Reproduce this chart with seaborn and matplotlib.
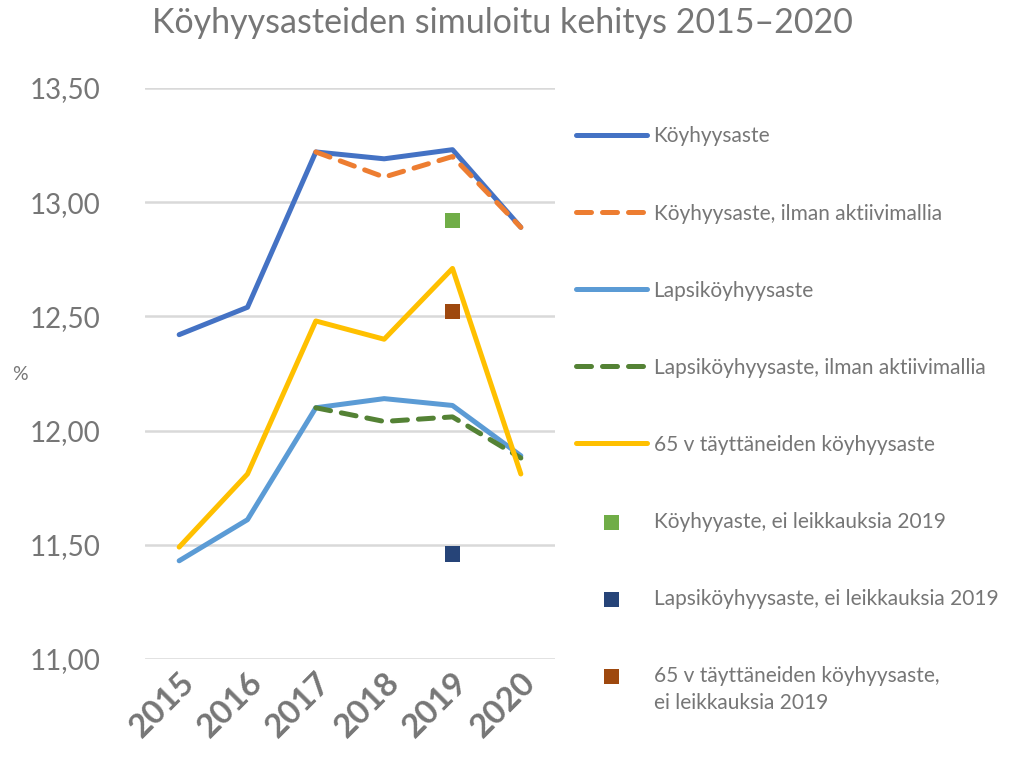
import matplotlib
matplotlib.use("Agg")
import matplotlib.pyplot as plt
import matplotlib.transforms as mtransforms
import seaborn as sns
import numpy as np
import pandas as pd

years = ["2015", "2016", "2017", "2018", "2019", "2020"]
koyhyysaste = [12.42, 12.54, 13.22, 13.19, 13.23, 12.89]
koyhyysaste_ilman = [np.nan, np.nan, 13.22, 13.11, 13.20, 12.89]
lapsi = [11.43, 11.61, 12.10, 12.14, 12.11, 11.89]
lapsi_ilman = [np.nan, np.nan, 12.10, 12.04, 12.06, 11.88]
yli65 = [11.49, 11.81, 12.48, 12.40, 12.71, 11.81]
marker_year = "2019"
koyhyys_ei_leik = 12.92
lapsi_ei_leik = 11.46
yli65_ei_leik = 12.52
yticks = [11.0, 11.5, 12.0, 12.5, 13.0, 13.5]

sns.set_theme(style="white")
plt.rcParams['font.family'] = ['Lato', 'DejaVu Sans']
gray = "#767676"

fig = plt.figure(figsize=(10.22, 7.62), dpi=100)
ax = fig.add_axes([145/1022, 103/762, 410/1022, 571/762])

xpos = np.arange(len(years))
mx = years.index(marker_year)
lw = 3.6

series = [
    ("Köyhyysaste", koyhyysaste, "#4472C4", "-"),
    ("Köyhyysaste, ilman aktiivimallia", koyhyysaste_ilman, "#ED7D31", "--"),
    ("Lapsiköyhyysaste", lapsi, "#5B9BD5", "-"),
    ("Lapsiköyhyysaste, ilman aktiivimallia", lapsi_ilman, "#548235", "--"),
    ("65 v täyttäneiden köyhyysaste", yli65, "#FFC000", "-"),
]
for label, vals, col, ls in series:
    df = pd.DataFrame({"x": xpos, "y": vals}).dropna()
    kw = dict(solid_capstyle="round", solid_joinstyle="round")
    if ls == "--":
        kw = dict(dashes=(3.0, 2.2), dash_capstyle="round")
    sns.lineplot(data=df, x="x", y="y", ax=ax, color=col, lw=lw, label=label, **kw)

markers = [
    ("Köyhyyaste, ei leikkauksia 2019", koyhyys_ei_leik, "#70AD47"),
    ("Lapsiköyhyysaste, ei leikkauksia 2019", lapsi_ei_leik, "#264478"),
    ("65 v täyttäneiden köyhyysaste,", yli65_ei_leik, "#9E480E"),
]
last_label_line2 = "ei leikkauksia 2019"
for label, val, col in markers:
    sns.scatterplot(x=[mx], y=[val], ax=ax, color=col, marker="s", s=120,
                    edgecolor="none", label=label, zorder=5)

ax.set_xlim(-0.5, len(years) - 0.5)
ax.set_ylim(11.0, 13.5)
ax.set_yticks(yticks)
ax.set_yticklabels([f"{v:.2f}".replace(".", ",") for v in yticks],
                   fontsize=20, color=gray)
ax.set_xticks(xpos)
ax.set_xticklabels(years, rotation=45, ha="right", va="top",
                   rotation_mode="anchor", fontsize=24, fontweight="bold", color=gray)
offset = mtransforms.ScaledTranslation(-12/100, -14/100, fig.dpi_scale_trans)
for t in ax.get_xticklabels():
    t.set_transform(t.get_transform() + offset)
ax.tick_params(axis="y", length=0, pad=32)
ax.tick_params(axis="x", length=0, pad=6)
ax.grid(axis="y", color="#d9d9d9", lw=1.8)
ax.set_axisbelow(True)
for s in ax.spines.values():
    s.set_visible(False)
ax.set_xlabel("")
ax.set_ylabel("")
fig.text(20/1022, 1 - 375/762, "%", fontsize=14, color=gray, ha="center", va="center")

fig.suptitle("Köyhyysasteiden simuloitu kehitys 2015–2020", x=502/1022, y=1 - 7/762,
             va="top", fontsize=24.5, color=gray)

handles, labels = ax.get_legend_handles_labels()
ax.get_legend().remove()
leg = fig.legend(handles, labels, loc="upper left", bbox_to_anchor=(566/1022, 1 - 116/762),
                 frameon=False, fontsize=15, labelcolor=gray, handlelength=3.4,
                 handletextpad=0.3, labelspacing=2.74, borderpad=0)

fig.canvas.draw()
bb = leg.get_texts()[-1].get_window_extent()
fig.text(bb.x0 / fig.bbox.width, (bb.y0 - 27) / fig.bbox.height,
         last_label_line2, fontsize=15, color=gray, ha="left", va="bottom")

fig.savefig("out.png", dpi=100)
